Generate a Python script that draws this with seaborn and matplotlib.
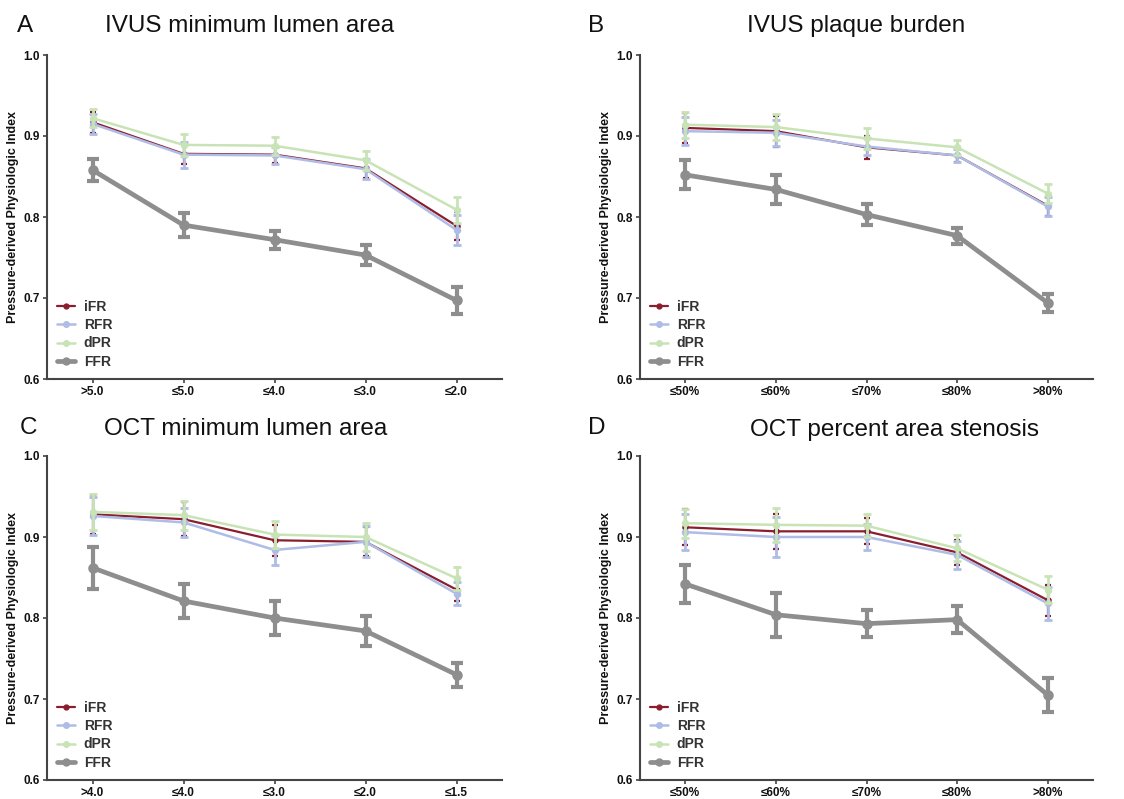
import numpy as np
import matplotlib
matplotlib.use("Agg")
import matplotlib.pyplot as plt
import seaborn as sns
from matplotlib.lines import Line2D

sns.set_theme(style="ticks")
plt.rcParams['font.family'] = ['Liberation Sans', 'DejaVu Sans']

series = ["iFR", "RFR", "dPR", "FFR"]
colors = {"iFR": "#8B1E2E", "RFR": "#AEBCE6", "dPR": "#C8E3B5", "FFR": "#8E8E8E"}

# Panel A: IVUS minimum lumen area
cats_a = [">5.0", "≤5.0", "≤4.0", "≤3.0", "≤2.0"]
a_ifr = [0.917, 0.878, 0.877, 0.860, 0.789]
a_ifr_err = [0.013, 0.013, 0.010, 0.012, 0.017]
a_rfr = [0.915, 0.877, 0.876, 0.859, 0.784]
a_rfr_err = [0.012, 0.016, 0.010, 0.012, 0.018]
a_dpr = [0.922, 0.889, 0.888, 0.870, 0.809]
a_dpr_err = [0.011, 0.014, 0.011, 0.012, 0.016]
a_ffr = [0.858, 0.790, 0.772, 0.753, 0.697]
a_ffr_err = [0.013, 0.015, 0.011, 0.012, 0.017]

# Panel B: IVUS plaque burden
cats_b = ["≤50%", "≤60%", "≤70%", "≤80%", ">80%"]
b_ifr = [0.910, 0.906, 0.886, 0.876, 0.814]
b_ifr_err = [0.019, 0.019, 0.014, 0.008, 0.013]
b_rfr = [0.906, 0.904, 0.887, 0.876, 0.813]
b_rfr_err = [0.017, 0.016, 0.011, 0.008, 0.012]
b_dpr = [0.914, 0.911, 0.897, 0.886, 0.829]
b_dpr_err = [0.016, 0.016, 0.013, 0.009, 0.012]
b_ffr = [0.852, 0.834, 0.803, 0.777, 0.694]
b_ffr_err = [0.018, 0.018, 0.013, 0.010, 0.011]

# Panel C: OCT minimum lumen area
cats_c = [">4.0", "≤4.0", "≤3.0", "≤2.0", "≤1.5"]
c_ifr = [0.928, 0.922, 0.896, 0.894, 0.835]
c_ifr_err = [0.024, 0.021, 0.019, 0.018, 0.014]
c_rfr = [0.926, 0.918, 0.884, 0.894, 0.830]
c_rfr_err = [0.024, 0.018, 0.018, 0.019, 0.014]
c_dpr = [0.931, 0.927, 0.903, 0.900, 0.849]
c_dpr_err = [0.022, 0.018, 0.017, 0.017, 0.014]
c_ffr = [0.862, 0.821, 0.800, 0.784, 0.730]
c_ffr_err = [0.026, 0.021, 0.021, 0.019, 0.015]

# Panel D: OCT percent area stenosis
cats_d = ["≤50%", "≤60%", "≤70%", "≤80%", ">80%"]
d_ifr = [0.912, 0.907, 0.907, 0.881, 0.822]
d_ifr_err = [0.022, 0.022, 0.016, 0.015, 0.019]
d_rfr = [0.906, 0.900, 0.900, 0.878, 0.818]
d_rfr_err = [0.022, 0.025, 0.016, 0.017, 0.020]
d_dpr = [0.917, 0.915, 0.914, 0.886, 0.835]
d_dpr_err = [0.018, 0.021, 0.014, 0.016, 0.017]
d_ffr = [0.842, 0.804, 0.793, 0.798, 0.705]
d_ffr_err = [0.023, 0.027, 0.017, 0.017, 0.021]

panels = [
    dict(letter="A", title="IVUS minimum lumen area", cats=cats_a,
         vals={"iFR": a_ifr, "RFR": a_rfr, "dPR": a_dpr, "FFR": a_ffr},
         errs={"iFR": a_ifr_err, "RFR": a_rfr_err, "dPR": a_dpr_err, "FFR": a_ffr_err},
         rect=[47, 55, 502, 379], letter_xy=(17, 32), title_xy=(250, 32)),
    dict(letter="B", title="IVUS plaque burden", cats=cats_b,
         vals={"iFR": b_ifr, "RFR": b_rfr, "dPR": b_dpr, "FFR": b_ffr},
         errs={"iFR": b_ifr_err, "RFR": b_rfr_err, "dPR": b_dpr_err, "FFR": b_ffr_err},
         rect=[640, 55, 1093, 379], letter_xy=(588, 32), title_xy=(856, 32)),
    dict(letter="C", title="OCT minimum lumen area", cats=cats_c,
         vals={"iFR": c_ifr, "RFR": c_rfr, "dPR": c_dpr, "FFR": c_ffr},
         errs={"iFR": c_ifr_err, "RFR": c_rfr_err, "dPR": c_dpr_err, "FFR": c_ffr_err},
         rect=[47, 456, 502, 780], letter_xy=(20, 434), title_xy=(246, 435)),
    dict(letter="D", title="OCT percent area stenosis", cats=cats_d,
         vals={"iFR": d_ifr, "RFR": d_rfr, "dPR": d_dpr, "FFR": d_ffr},
         errs={"iFR": d_ifr_err, "RFR": d_rfr_err, "dPR": d_dpr_err, "FFR": d_ffr_err},
         rect=[640, 456, 1093, 780], letter_xy=(588, 434), title_xy=(895, 436)),
]

W, H = 1124, 799
fig = plt.figure(figsize=(W / 100, H / 100), dpi=100)
fig.patch.set_facecolor("white")

draw_order = ["FFR", "iFR", "RFR", "dPR"]
lw = {"iFR": 1.6, "RFR": 1.8, "dPR": 1.8, "FFR": 3.4}
ms = {"iFR": 3.5, "RFR": 4, "dPR": 4, "FFR": 5}
elw = {"iFR": 1.6, "RFR": 2.0, "dPR": 2.0, "FFR": 3.0}
cap = {"iFR": 2.5, "RFR": 3, "dPR": 3, "FFR": 4}

for p in panels:
    x0, y0, x1, y1 = p["rect"]
    ax = fig.add_axes([x0 / W, 1 - y1 / H, (x1 - x0) / W, (y1 - y0) / H])
    pos = np.arange(len(p["cats"]))
    for z, s in enumerate(draw_order):
        sns.pointplot(x=p["cats"], y=p["vals"][s], color=colors[s], markers="o",
                      errorbar=None, ax=ax, linewidth=lw[s], markersize=ms[s],
                      zorder=3 + z)
        ax.errorbar(pos, p["vals"][s], yerr=p["errs"][s], fmt="none",
                    ecolor=colors[s], elinewidth=elw[s], capsize=cap[s],
                    capthick=elw[s], zorder=3 + z)
    ax.set_xlim(-0.5, len(p["cats"]) - 0.5)
    ax.set_ylim(0.6, 1.0)
    ax.set_yticks([0.6, 0.7, 0.8, 0.9, 1.0])
    ax.set_yticklabels(["0.6", "0.7", "0.8", "0.9", "1.0"])
    ax.set_xticks(pos)
    ax.set_xticklabels(p["cats"])
    for lab in ax.get_xticklabels() + ax.get_yticklabels():
        lab.set_fontweight("bold")
        lab.set_fontsize(8.5)
        lab.set_color("#111111")
    ax.tick_params(axis="both", length=3, width=1.2, color="#444444", pad=2)
    ax.tick_params(axis="x", pad=2)
    sns.despine(ax=ax)
    for sp in ["left", "bottom"]:
        ax.spines[sp].set_linewidth(1.5)
        ax.spines[sp].set_color("#444444")
    ax.set_ylabel("Pressure-derived Physiologic Index", fontsize=9,
                  fontweight="bold", labelpad=3, color="#111111")
    ax.set_xlabel("")
    ax.set_facecolor("white")

    handles = [Line2D([0], [0], color=colors[s], lw=lw[s], marker="o",
                      markersize=ms[s]) for s in series]
    leg = ax.legend(handles, series, loc="lower left", bbox_to_anchor=(0.0, 0.0),
                    frameon=False, handlelength=1.3,
                    handletextpad=0.6, labelspacing=0.3, borderaxespad=0.35,
                    prop={"weight": "bold", "size": 10})
    for t in leg.get_texts():
        t.set_color("#333333")

    lx, ly = p["letter_xy"]
    fig.text(lx / W, 1 - ly / H, p["letter"], fontsize=17.5, ha="left",
             va="baseline", color="#111111")
    tx, ty = p["title_xy"]
    fig.text(tx / W, 1 - ty / H, p["title"], fontsize=17.5, ha="center",
             va="baseline", color="#111111")

fig.savefig("out.png", dpi=100, facecolor="white")
